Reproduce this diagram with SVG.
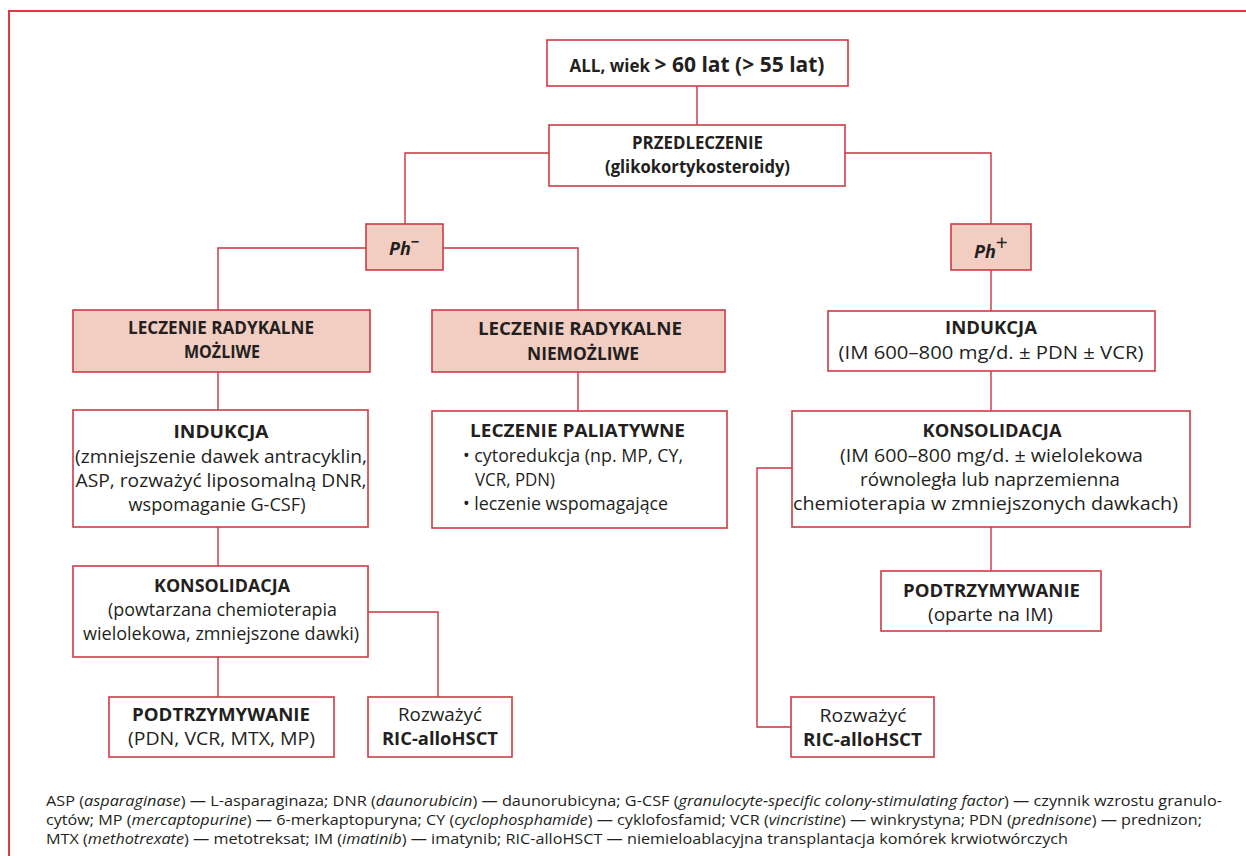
<svg xmlns="http://www.w3.org/2000/svg" width="1246" height="856" viewBox="0 0 1246 856">
<style>
.box{fill:#fff;stroke:#cd3b45;stroke-width:1.6}
.pink{fill:#f2cdc2;stroke:#cd3b45;stroke-width:1.6}
.con{fill:none;stroke:#c8343e;stroke-width:1.4}
text{font-family:"Open Sans","Noto Sans","Liberation Sans",sans-serif;fill:#231f20;font-size:18px}
.c{text-anchor:middle}
.b{font-weight:bold}
.t{font-size:17px}
.fn{font-size:15px}
.i{font-style:italic}
</style>
<path d="M9 1000 V11 H1246" fill="none" stroke="#e0393e" stroke-width="2"/>
<g id="connectors">
<path class="con" d="M697 86 V125"/>
<path class="con" d="M549 153 H405 V224"/>
<path class="con" d="M845 153 H991 V224"/>
<path class="con" d="M366 248 H218 V310"/>
<path class="con" d="M443 248 H578 V310"/>
<path class="con" d="M991 270 V311"/>
<path class="con" d="M218 372 V410"/>
<path class="con" d="M578 372 V411"/>
<path class="con" d="M991 371 V411"/>
<path class="con" d="M218 527 V566"/>
<path class="con" d="M368 612 H438 V697"/>
<path class="con" d="M218 657 V697"/>
<path class="con" d="M991 527 V571"/>
<path class="con" d="M792 468 H757 V727 H791"/>
</g>
<g id="n-all">
<rect class="box" x="547" y="40" width="301" height="46"/>
<text class="c b" x="697" y="72"><tspan font-size="17">ALL, wiek </tspan><tspan font-size="21">&gt; 60 lat (&gt; 55 lat)</tspan></text>
</g>
<g id="n-predl">
<rect class="box" x="549" y="125" width="296" height="61"/>
<text class="c b t" x="697.5" y="149" textLength="131" lengthAdjust="spacingAndGlyphs">PRZEDLECZENIE</text>
<text class="c b t" x="697.5" y="173" textLength="185" lengthAdjust="spacingAndGlyphs">(glikokortykosteroidy)</text>
</g>
<g id="n-phminus">
<rect class="pink" x="366" y="224" width="77" height="46"/>
<text class="b i" x="389" y="255" font-size="19">Ph<tspan font-size="15" dy="-8" font-style="normal">−</tspan></text>
</g>
<g id="n-phplus">
<rect class="pink" x="951" y="224" width="80" height="46"/>
<text class="b i" x="974" y="258" font-size="19">Ph<tspan font-size="21" dy="-8" font-style="normal" font-weight="normal">+</tspan></text>
</g>
<g id="n-radmoz">
<rect class="pink" x="73" y="310" width="297" height="62"/>
<text class="c b t" x="221" y="334" textLength="186" lengthAdjust="spacingAndGlyphs">LECZENIE RADYKALNE</text>
<text class="c b t" x="222" y="358" textLength="76" lengthAdjust="spacingAndGlyphs">MOŻLIWE</text>
</g>
<g id="n-radniemoz">
<rect class="pink" x="432" y="310" width="293" height="62"/>
<text class="c b" x="580" y="335" textLength="204" lengthAdjust="spacingAndGlyphs">LECZENIE RADYKALNE</text>
<text class="c b" x="583" y="360" textLength="112" lengthAdjust="spacingAndGlyphs">NIEMOŻLIWE</text>
</g>
<g id="n-ind-ph-plus">
<rect class="box" x="828" y="311" width="327" height="60"/>
<text class="c b" x="991" y="334" textLength="92" lengthAdjust="spacingAndGlyphs">INDUKCJA</text>
<text class="c" x="991" y="359" textLength="305" lengthAdjust="spacingAndGlyphs">(IM 600–800 mg/d. ± PDN ± VCR)</text>
</g>
<g id="n-ind-left">
<rect class="box" x="73" y="410" width="295" height="117"/>
<text class="c b" x="221" y="438" textLength="95" lengthAdjust="spacingAndGlyphs">INDUKCJA</text>
<text class="c" x="221" y="463" textLength="292" lengthAdjust="spacingAndGlyphs">(zmniejszenie dawek antracyklin,</text>
<text class="c" x="221" y="487" textLength="291" lengthAdjust="spacingAndGlyphs">ASP, rozważyć liposomalną DNR,</text>
<text class="c" x="217" y="511" textLength="177" lengthAdjust="spacingAndGlyphs">wspomaganie G-CSF)</text>
</g>
<g id="n-paliat">
<rect class="box" x="432" y="411" width="295" height="117"/>
<text class="c b" x="577.5" y="437" textLength="215" lengthAdjust="spacingAndGlyphs">LECZENIE PALIATYWNE</text>
<text x="463" y="462" textLength="220" lengthAdjust="spacingAndGlyphs">• cytoredukcja (np. MP, CY,</text>
<text x="475" y="486" textLength="80" lengthAdjust="spacingAndGlyphs">VCR, PDN)</text>
<text x="463" y="510" textLength="205" lengthAdjust="spacingAndGlyphs">• leczenie wspomagające</text>
</g>
<g id="n-kons-right">
<rect class="box" x="792" y="411" width="398" height="116"/>
<text class="c b" x="992" y="437" textLength="139" lengthAdjust="spacingAndGlyphs">KONSOLIDACJA</text>
<text class="c" x="991.5" y="462" textLength="303" lengthAdjust="spacingAndGlyphs">(IM 600–800 mg/d. ± wielolekowa</text>
<text class="c" x="990" y="486" textLength="260" lengthAdjust="spacingAndGlyphs">równoległa lub naprzemienna</text>
<text class="c" x="985.5" y="510" textLength="385" lengthAdjust="spacingAndGlyphs">chemioterapia w zmniejszonych dawkach)</text>
</g>
<g id="n-kons-left">
<rect class="box" x="73" y="566" width="295" height="91"/>
<text class="c b" x="222" y="592" textLength="136" lengthAdjust="spacingAndGlyphs">KONSOLIDACJA</text>
<text class="c" x="222.5" y="616" textLength="229" lengthAdjust="spacingAndGlyphs">(powtarzana chemioterapia</text>
<text class="c" x="221" y="640" textLength="276" lengthAdjust="spacingAndGlyphs">wielolekowa, zmniejszone dawki)</text>
</g>
<g id="n-podtrz-left">
<rect class="box" x="109" y="697" width="225" height="60"/>
<text class="c b" x="221" y="721" textLength="178" lengthAdjust="spacingAndGlyphs">PODTRZYMYWANIE</text>
<text class="c" x="221.5" y="745" textLength="187" lengthAdjust="spacingAndGlyphs">(PDN, VCR, MTX, MP)</text>
</g>
<g id="n-ric-left">
<rect class="box" x="368" y="697" width="144" height="60"/>
<text class="c" x="440" y="721" textLength="84" lengthAdjust="spacingAndGlyphs">Rozważyć</text>
<text class="c b" x="440" y="745" textLength="116" lengthAdjust="spacingAndGlyphs">RIC-alloHSCT</text>
</g>
<g id="n-podtrz-right">
<rect class="box" x="881" y="571" width="220" height="60"/>
<text class="c b" x="991.5" y="597" textLength="177" lengthAdjust="spacingAndGlyphs">PODTRZYMYWANIE</text>
<text class="c" x="990.5" y="621" textLength="125" lengthAdjust="spacingAndGlyphs">(oparte na IM)</text>
</g>
<g id="n-ric-right">
<rect class="box" x="791" y="697" width="143" height="60"/>
<text class="c" x="863" y="722" textLength="87" lengthAdjust="spacingAndGlyphs">Rozważyć</text>
<text class="c b" x="862.5" y="746" textLength="119" lengthAdjust="spacingAndGlyphs">RIC-alloHSCT</text>
</g>
<g id="footnote">
<text class="fn" x="46" y="806" textLength="1176" lengthAdjust="spacingAndGlyphs">ASP (<tspan class="i">asparaginase</tspan>) — L-asparaginaza; DNR (<tspan class="i">daunorubicin</tspan>) — daunorubicyna; G-CSF (<tspan class="i">granulocyte-specific colony-stimulating factor</tspan>) — czynnik wzrostu granulo-</text>
<text class="fn" x="46" y="825" textLength="1156" lengthAdjust="spacingAndGlyphs">cytów; MP (<tspan class="i">mercaptopurine</tspan>) — 6-merkaptopuryna; CY (<tspan class="i">cyclophosphamide</tspan>) — cyklofosfamid; VCR (<tspan class="i">vincristine</tspan>) — winkrystyna; PDN (<tspan class="i">prednisone</tspan>) — prednizon;</text>
<text class="fn" x="46" y="844" textLength="1022" lengthAdjust="spacingAndGlyphs">MTX (<tspan class="i">methotrexate</tspan>) — metotreksat; IM (<tspan class="i">imatinib</tspan>) — imatynib; RIC-alloHSCT — niemieloablacyjna transplantacja komórek krwiotwórczych</text>
</g>
</svg>
